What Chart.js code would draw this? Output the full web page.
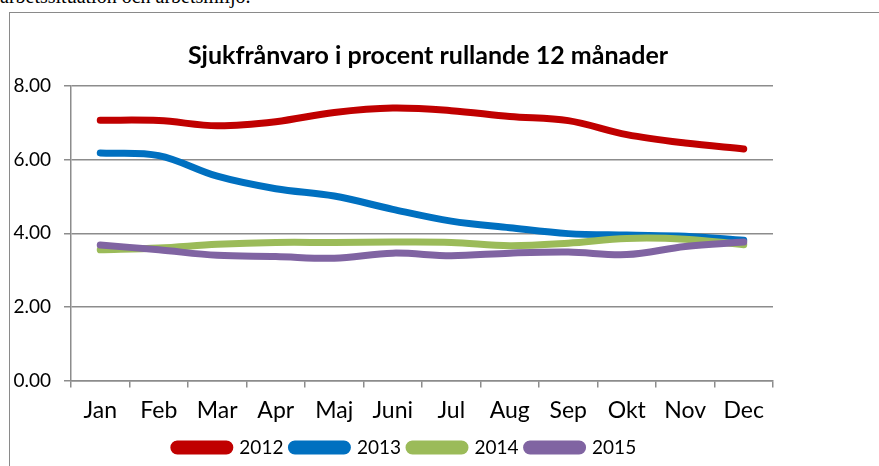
<!DOCTYPE html>
<html>
<head>
<meta charset="utf-8">
<script src="https://cdn.jsdelivr.net/npm/chart.js@4"></script>
<style>
  html, body { margin: 0; padding: 0; background: #fff; overflow: hidden; }
  #page { position: relative; width: 879px; height: 466px; }
  #cut { position: absolute; left: 0; top: -15px; font-family: "Liberation Serif", serif; font-size: 20px; color: #000; white-space: nowrap; }
  #frame { position: absolute; left: 9px; top: 12px; width: 900px; height: 500px; border: 1.5px solid #8a8a8a; box-sizing: border-box; }
  #c { position: absolute; left: 0; top: 0; }
</style>
</head>
<body>
<div id="page">
  <div id="cut">arbetssituation och arbetsmiljö.</div>
  <div id="frame"></div>
  <canvas id="c" width="879" height="466"></canvas>
</div>
<script>
// månader och värden
const months = ['Jan', 'Feb', 'Mar', 'Apr', 'Maj', 'Juni', 'Jul', 'Aug', 'Sep', 'Okt', 'Nov', 'Dec'];
const years = ['2012', '2013', '2014', '2015'];
const v2012 = [7.07, 7.06, 6.92, 7.03, 7.28, 7.40, 7.33, 7.17, 7.06, 6.68, 6.45, 6.29];
const v2013 = [6.18, 6.11, 5.55, 5.21, 5.01, 4.65, 4.33, 4.15, 3.99, 3.95, 3.92, 3.81];
const v2014 = [3.55, 3.60, 3.70, 3.75, 3.75, 3.76, 3.75, 3.66, 3.73, 3.86, 3.84, 3.69];
const v2015 = [3.68, 3.55, 3.40, 3.37, 3.32, 3.46, 3.39, 3.46, 3.49, 3.42, 3.64, 3.76];
const yTicks = [0, 2, 4, 6, 8];

const colors = ['#C00000', '#0070C0', '#9BBB59', '#8064A2'];
const series = [v2012, v2013, v2014, v2015];

const FONT = 'Lato, "Open Sans", sans-serif';
const grey = '#8c8c8c';

const datasets = series.map((vals, i) => ({
    label: years[i],
    data: vals,
    borderColor: colors[i],
    backgroundColor: colors[i],
    borderWidth: 7,
    borderCapStyle: 'round',
    borderJoinStyle: 'round',
    pointRadius: 0,
    pointHoverRadius: 0,
    tension: 0.35,
    fill: false,
    order: series.length - i   // 2015 överst
}));

// flytta legenden lite åt vänster och nedåt, som i originalet
const legendShift = {
    id: 'legendShift',
    afterLayout(chart) {
        const lg = chart.legend;
        if (!lg) return;
        lg.left -= 17; lg.right -= 17;
        lg.top += 1; lg.bottom += 1;
    }
};

new Chart(document.getElementById('c'), {
    type: 'line',
    data: { labels: months, datasets },
    plugins: [legendShift],
    options: {
        responsive: false,
        animation: false,
        layout: { padding: { left: 10, right: 33, top: 0, bottom: 0 } },
        plugins: {
            title: {
                display: true,
                text: 'Sjukfrånvaro i procent rullande 12 månader',
                color: '#000',
                font: { family: FONT, size: 25, weight: 'bold', lineHeight: 1.2 },
                padding: { top: 41, bottom: 15 }
            },
            legend: {
                position: 'bottom',
                fullSize: false,
                labels: {
                    color: '#000',
                    font: { family: FONT, size: 19, lineHeight: 0.9 },
                    boxWidth: 56,
                    boxHeight: 7,
                    useBorderRadius: true,
                    borderRadius: 3.5,
                    padding: 8,
                    sort: (a, b) => a.datasetIndex - b.datasetIndex
                }
            },
            tooltip: { enabled: false }
        },
        scales: {
            x: {
                offset: true,
                afterFit: s => { s.height = 48.5; },
                grid: { display: true, drawOnChartArea: false, offset: true, tickLength: 7, color: grey, lineWidth: 1.5 },
                border: { color: grey, width: 1.5 },
                ticks: { color: '#000', font: { family: FONT, size: 23, lineHeight: 1.0 }, padding: 11.5, maxRotation: 0, autoSkip: false }
            },
            y: {
                min: 0,
                max: 8,
                afterBuildTicks: s => { s.ticks = yTicks.map(v => ({ value: v })); },
                afterFit: s => { s.width = 61; },
                grid: { color: grey, lineWidth: 1.5, tickLength: 7 },
                border: { color: grey, width: 1.5 },
                ticks: { color: '#000', font: { family: FONT, size: 19 }, padding: 13, callback: v => v.toFixed(2) }
            },
            y2: {
                position: 'right',
                display: true,
                grid: { display: false },
                border: { display: false },
                ticks: { display: false },
                afterFit: s => { s.width = 73; }
            }
        }
    }
});
</script>
</body>
</html>
